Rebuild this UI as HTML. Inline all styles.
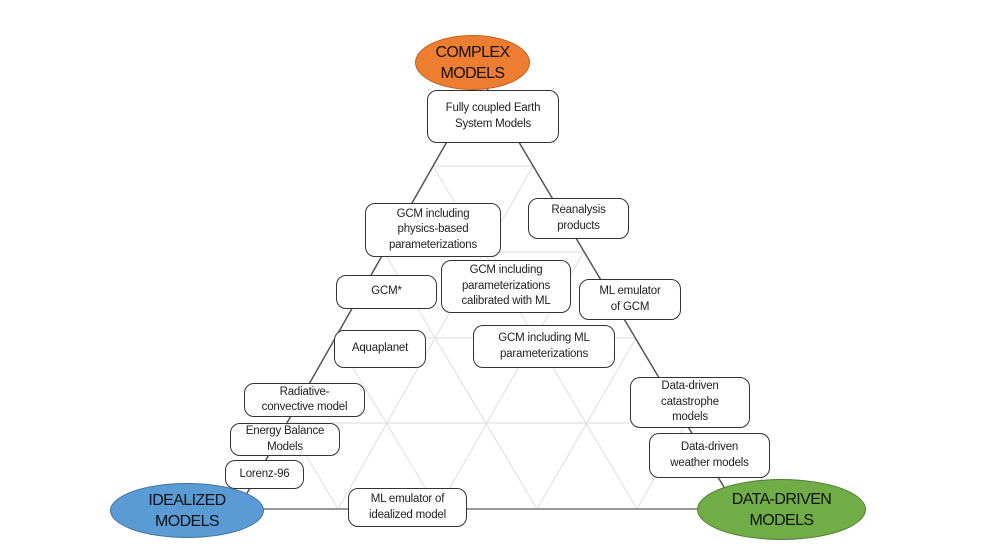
<!DOCTYPE html>
<html><head><meta charset="utf-8"><style>
body{margin:0;background:#fff;}
.w{position:relative;width:996px;height:552px;overflow:hidden;font-family:"Liberation Sans",sans-serif;}
.b{position:absolute;box-sizing:border-box;border:1.5px solid #333;border-radius:10px;background:#fff;display:flex;align-items:center;justify-content:center;text-align:center;font-size:11.5px;line-height:15.5px;color:#222;letter-spacing:-0.2px;}
.e{position:absolute;border-radius:50%;display:flex;align-items:center;justify-content:center;text-align:center;font-size:16px;line-height:21px;color:#111;box-sizing:border-box;letter-spacing:-0.6px;}
</style></head><body><div class="w">
<svg width="996" height="552" style="position:absolute;left:0;top:0">
<g stroke="#e2e2e2" stroke-width="1.2" fill="none">
<line x1="433" y1="166" x2="533" y2="166"/><line x1="384" y1="252" x2="584" y2="252"/>
<line x1="335" y1="338" x2="636" y2="338"/><line x1="287" y1="423" x2="686" y2="423"/>
<line x1="338" y1="509" x2="533" y2="166"/><line x1="438" y1="509" x2="584" y2="252"/>
<line x1="537" y1="509" x2="636" y2="338"/><line x1="637" y1="509" x2="686" y2="423"/>
<line x1="338" y1="509" x2="287" y2="423"/><line x1="438" y1="509" x2="335" y2="338"/>
<line x1="537" y1="509" x2="384" y2="252"/><line x1="637" y1="509" x2="433" y2="166"/>
</g>
<g stroke="#555" stroke-width="1.5">
<line x1="482" y1="80" x2="238" y2="509"/><line x1="482" y1="80" x2="737" y2="509"/>
</g>
<line x1="250" y1="509" x2="710" y2="509" stroke="#999" stroke-width="2"/>
</svg>
<div class="b" style="left:427px;top:90px;width:132px;height:53px">Fully coupled Earth<br>System Models</div>
<div class="b" style="left:365px;top:203px;width:136px;height:54px">GCM including<br>physics-based<br>parameterizations</div>
<div class="b" style="left:528px;top:198px;width:101px;height:41px">Reanalysis<br>products</div>
<div class="b" style="left:336px;top:275px;width:101px;height:34px">GCM*</div>
<div class="b" style="left:441px;top:260px;width:130px;height:53px">GCM including<br>parameterizations<br>calibrated with ML</div>
<div class="b" style="left:579px;top:279px;width:102px;height:41px">ML emulator<br>of GCM</div>
<div class="b" style="left:334px;top:330px;width:92px;height:38px">Aquaplanet</div>
<div class="b" style="left:473px;top:325px;width:142px;height:43px">GCM including ML<br>parameterizations</div>
<div class="b" style="left:244px;top:383px;width:121px;height:34px">Radiative-<br>convective model</div>
<div class="b" style="left:230px;top:423px;width:110px;height:33px">Energy Balance<br>Models</div>
<div class="b" style="left:225px;top:460px;width:79px;height:29px">Lorenz-96</div>
<div class="b" style="left:348px;top:488px;width:119px;height:39px">ML emulator of<br>idealized model</div>
<div class="b" style="left:630px;top:377px;width:120px;height:51px">Data-driven<br>catastrophe<br>models</div>
<div class="b" style="left:649px;top:433px;width:121px;height:45px">Data-driven<br>weather models</div>
<div class="e" style="left:415px;top:35px;width:115px;height:55px;background:#ED7D31;border:1px solid #c0601f">COMPLEX<br>MODELS</div>
<div class="e" style="left:110px;top:483px;width:154px;height:55px;background:#5B9BD5;border:1px solid #41719c">IDEALIZED<br>MODELS</div>
<div class="e" style="left:697px;top:479px;width:169px;height:61px;background:#70AD47;border:1px solid #507e32">DATA-DRIVEN<br>MODELS</div>
</div></body></html>
